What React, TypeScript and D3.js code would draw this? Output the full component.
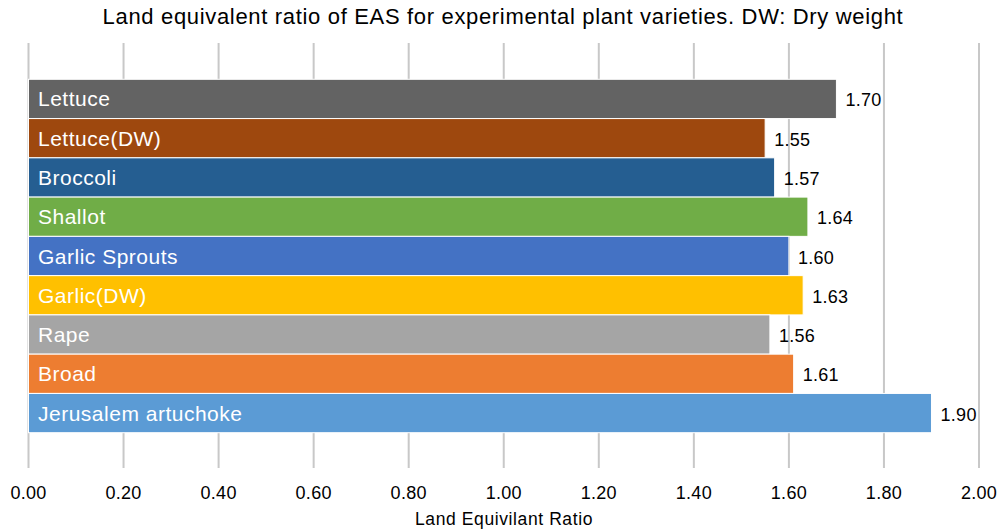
import React from "react";
import * as d3 from "d3";

const categories = ["Lettuce", "Lettuce(DW)", "Broccoli", "Shallot", "Garlic Sprouts", "Garlic(DW)", "Rape", "Broad", "Jerusalem artuchoke"];
const values = [1.70, 1.55, 1.57, 1.64, 1.60, 1.63, 1.56, 1.61, 1.90];
const colors = ["#636363", "#9E480E", "#255E91", "#70AD47", "#4472C4", "#FFC000", "#A5A5A5", "#ED7D31", "#5B9BD5"];
const ticks = [0, 0.2, 0.4, 0.6, 0.8, 1.0, 1.2, 1.4, 1.6, 1.8, 2.0];
const title = "Land equivalent ratio of EAS for experimental plant varieties. DW: Dry weight";
const xTitle = "Land Equivilant Ratio";

export default function App() {
  const W = 1001, H = 530;
  const left = 28.5, right = 979, top = 43, bottom = 468;
  const x = d3.scaleLinear().domain([0, 2]).range([left, right]);
  const y = d3.scaleBand<string>().domain(categories).range([79.3, 432.7]).padding(0);
  const font = "'Liberation Sans', Arial, sans-serif";
  return (
    <svg width={W} height={H} style={{ position: "absolute", left: 0, top: 0, background: "#fff" }} fontFamily={font}>
      <rect width={W} height={H} fill="#fff" />
      <text x={503} y={24} textAnchor="middle" fontSize={22} letterSpacing={0.67} fill="#000">{title}</text>
      {ticks.map((t) => (
        <line key={t} x1={x(t)} x2={x(t)} y1={top} y2={bottom} stroke="#c8c8c8" strokeWidth={2} />
      ))}
      {categories.map((c, i) => (
        <g key={c}>
          <rect x={x(0)} y={y(c)!} width={x(values[i]) - x(0)} height={y.bandwidth()} fill={colors[i]} stroke="#fff" strokeWidth={1} />
          <text x={38} y={y(c)! + y.bandwidth() / 2 + 7.5} fontSize={21} letterSpacing={0.5} fill="#fff">{c}</text>
          <text x={x(values[i]) + 9} y={y(c)! + y.bandwidth() / 2 + 7.5} fontSize={18} letterSpacing={0.3} fill="#000">{values[i].toFixed(2)}</text>
        </g>
      ))}
      {ticks.map((t) => (
        <text key={"l" + t} x={x(t)} y={499} textAnchor="middle" fontSize={18} letterSpacing={0.3} fill="#000">{t.toFixed(2)}</text>
      ))}
      <text x={504} y={525} textAnchor="middle" fontSize={17.5} letterSpacing={0.6} fill="#000">{xTitle}</text>
    </svg>
  );
}
